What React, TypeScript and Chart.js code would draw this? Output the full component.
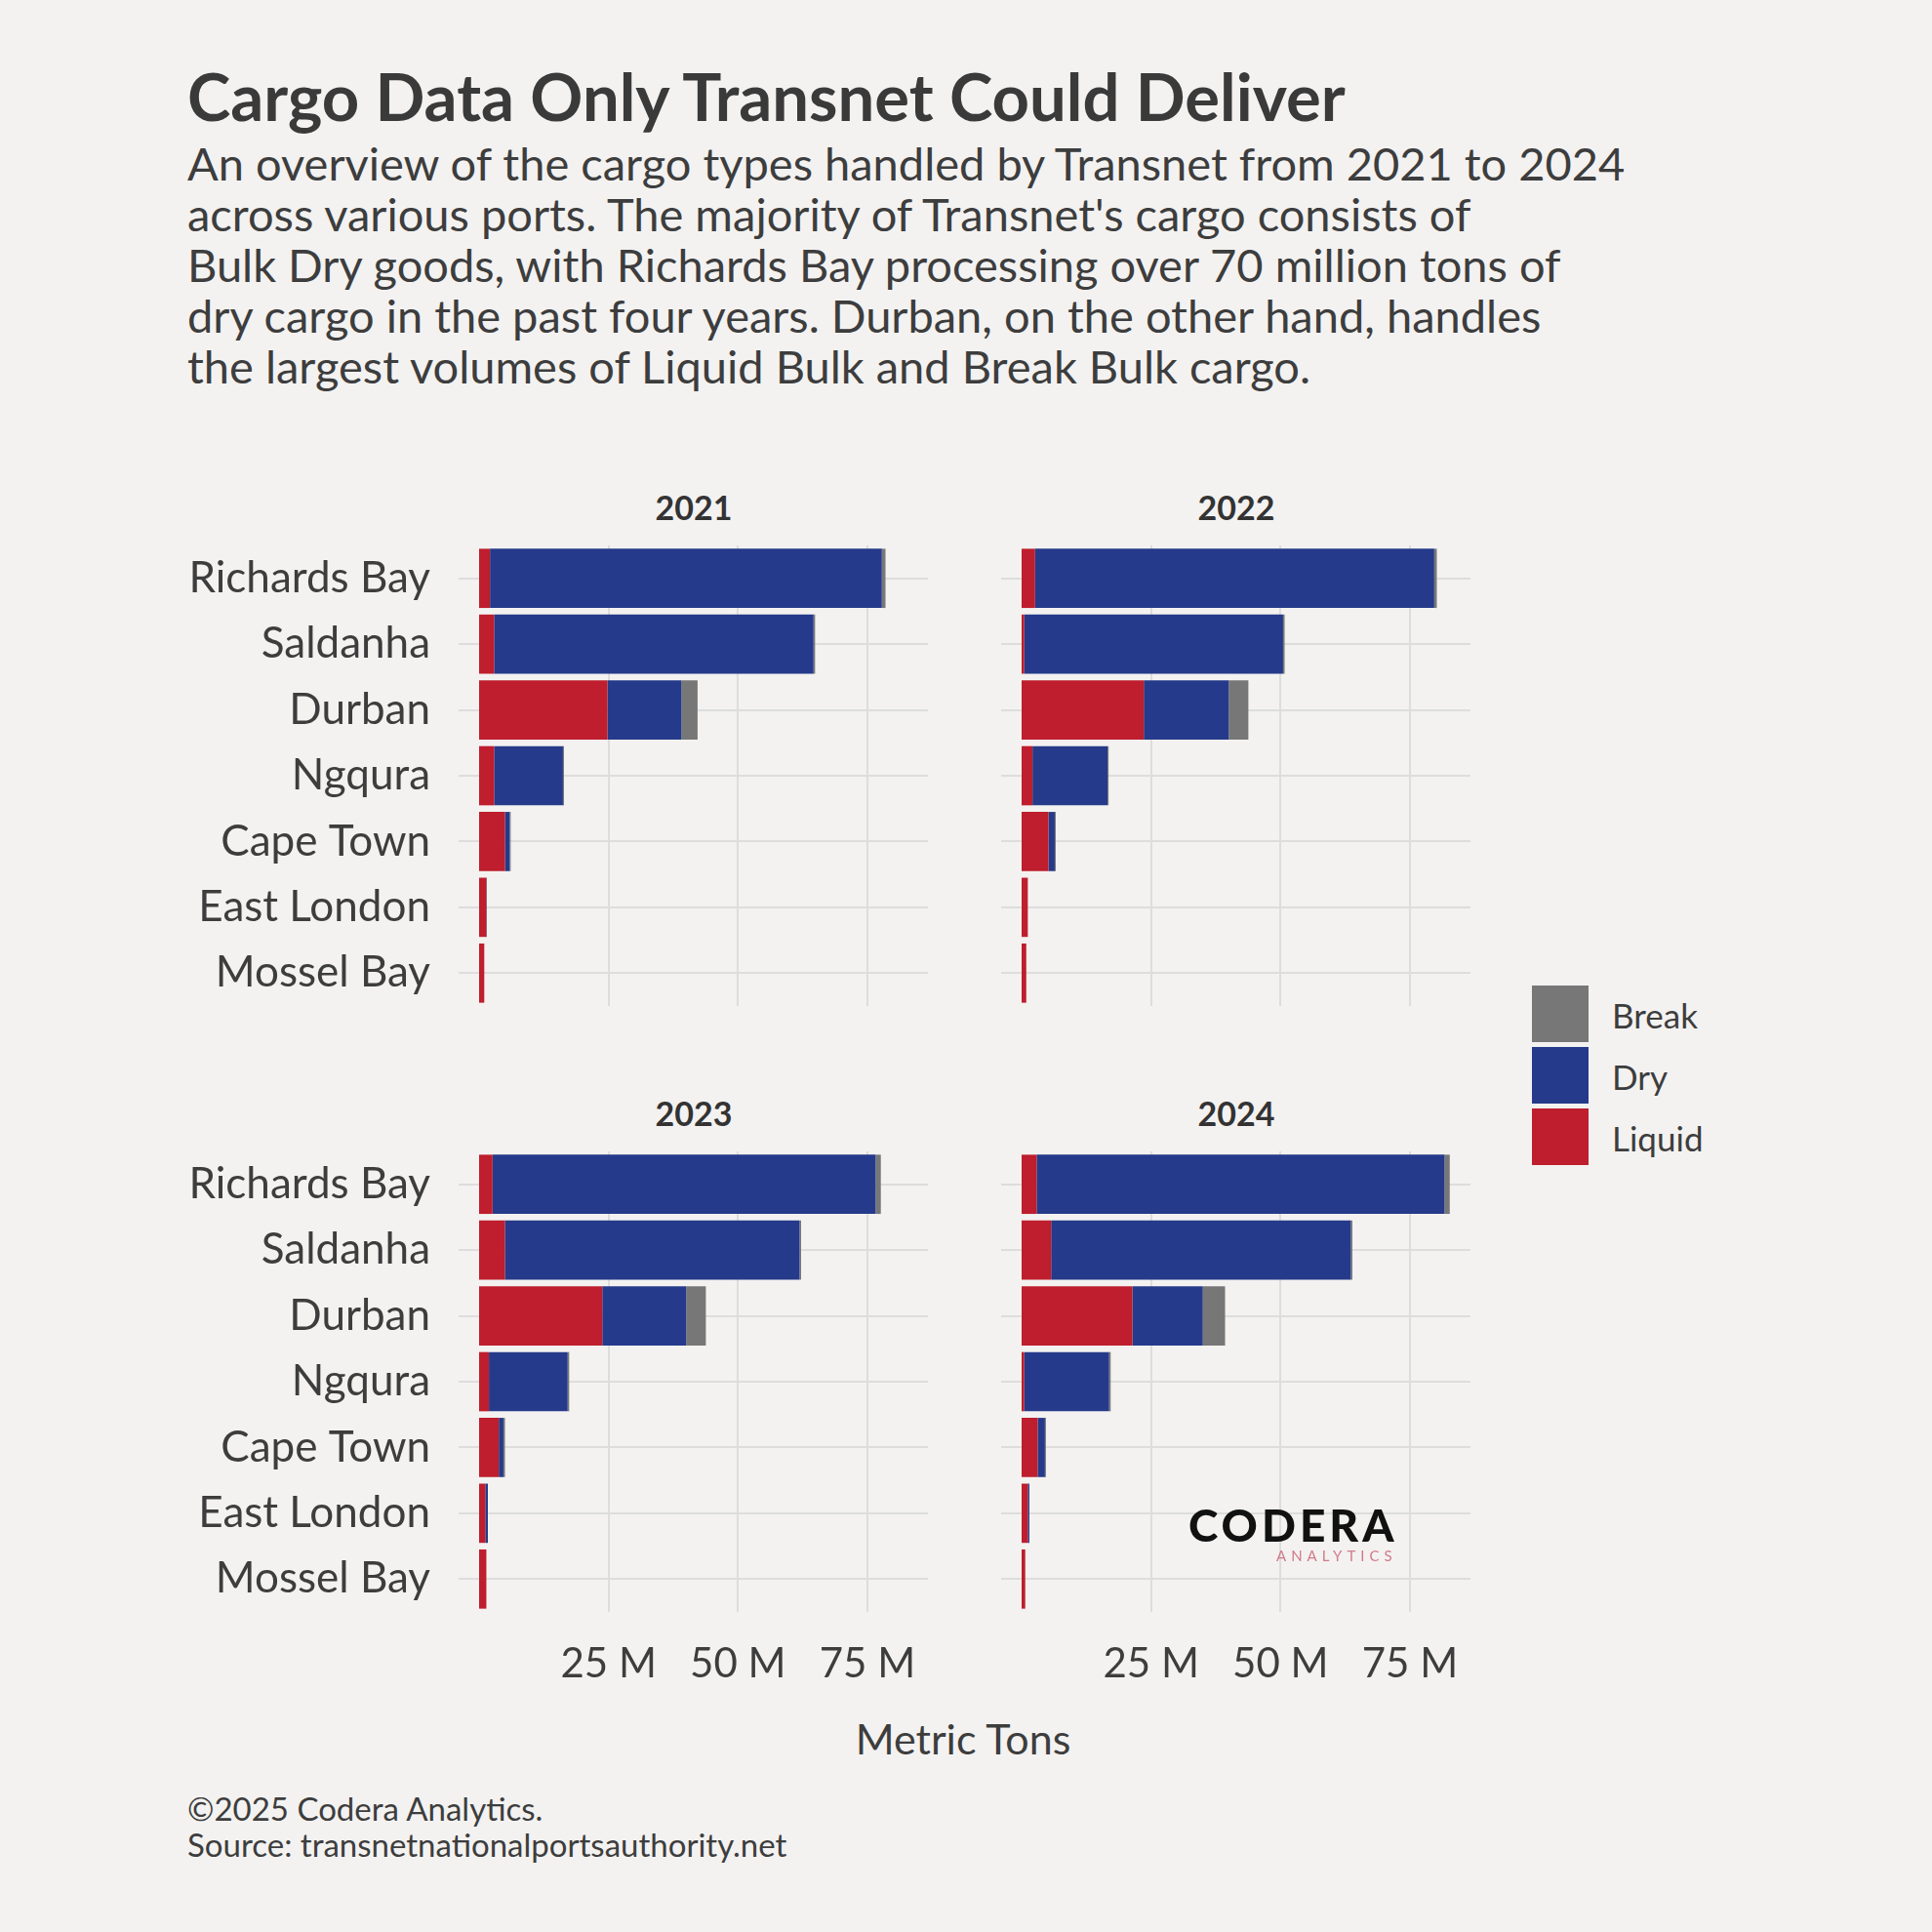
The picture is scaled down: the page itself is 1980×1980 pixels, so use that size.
import React, { useEffect, useRef } from "react";
import { Chart, registerables } from "chart.js";
Chart.register(...registerables);

const ports = ["Richards Bay", "Saldanha", "Durban", "Ngqura", "Cape Town", "East London", "Mossel Bay"];
const years = ["2021", "2022", "2023", "2024"];
const liquid2021 = [2.1, 2.9, 24.8, 2.9, 5.0, 1.4, 1.0];
const dry2021 = [75.7, 61.7, 14.3, 13.3, 0.9, 0.1, 0];
const break2021 = [0.7, 0.3, 3.1, 0.2, 0.2, 0, 0];
const liquid2022 = [2.6, 0.5, 23.6, 2.1, 5.2, 1.2, 0.9];
const dry2022 = [77.1, 50.0, 16.4, 14.5, 1.2, 0, 0];
const break2022 = [0.5, 0.3, 3.8, 0.2, 0.2, 0, 0];
const liquid2023 = [2.6, 5.0, 23.8, 1.9, 3.8, 1.2, 1.4];
const dry2023 = [74.0, 56.9, 16.2, 15.2, 0.9, 0.5, 0];
const break2023 = [1.0, 0.3, 3.8, 0.3, 0.3, 0, 0];
const liquid2024 = [2.9, 5.7, 21.4, 0.5, 3.1, 1.2, 0.7];
const dry2024 = [78.8, 57.9, 13.6, 16.4, 1.4, 0.3, 0];
const break2024 = [1.0, 0.3, 4.3, 0.3, 0.2, 0, 0];
const liquidAll = [liquid2021, liquid2022, liquid2023, liquid2024];
const dryAll = [dry2021, dry2022, dry2023, dry2024];
const breakAll = [break2021, break2022, break2023, break2024];
const xTicks = [25, 50, 75];

const RED = "#be1e2d", BLUE = "#253a8a", GREY = "#777777", TXT = "#3d3d3d", BG = "#f3f2f1", GRID = "#dddddd";
const FONT = "Lato, 'Noto Sans', sans-serif";

function Panel({ idx }: { idx: number }) {
  const ref = useRef<HTMLCanvasElement>(null);
  const left = idx % 2 === 0;
  const bottom = idx >= 2;
  const canvasLeft = left ? 150 : 1026;
  const plotLeft = left ? 491 : 1047;
  const plotW = 460;
  const top = bottom ? 1180 : 559;
  const plotH = 472;
  const w = plotLeft - canvasLeft + plotW;
  const xh = bottom ? 86 : 0;
  const h = plotH + xh;
  useEffect(() => {
    const c = new Chart(ref.current!, {
      type: "bar",
      data: {
        labels: ports,
        datasets: [
          { label: "Liquid", data: liquidAll[idx], backgroundColor: RED },
          { label: "Dry", data: dryAll[idx], backgroundColor: BLUE },
          { label: "Break", data: breakAll[idx], backgroundColor: GREY },
        ],
      },
      options: {
        indexAxis: "y",
        animation: false,
        responsive: false,
        maintainAspectRatio: false,
        layout: { padding: 0 },
        datasets: { bar: { categoryPercentage: 1, barPercentage: 0.9 } },
        plugins: { legend: { display: false }, tooltip: { enabled: false } },
        scales: {
          x: {
            stacked: true, min: 0, max: 86.7,
            afterBuildTicks: (s: any) => { s.ticks = xTicks.map((v) => ({ value: v })); },
            afterFit: (s: any) => { s.height = xh; s.paddingLeft = 0; s.paddingRight = 0; },
            border: { display: false },
            grid: { color: GRID, lineWidth: 2, drawTicks: false },
            ticks: { display: bottom, color: TXT, font: { family: FONT, size: 42 }, padding: 28, maxRotation: 0, callback: (v: any) => v + " M" },
          },
          y: {
            stacked: true,
            afterFit: (s: any) => { s.width = plotLeft - canvasLeft; s.paddingTop = 0; s.paddingBottom = 0; },
            border: { display: false },
            grid: { color: GRID, lineWidth: 2, offset: false, drawTicks: true, tickLength: 21, tickColor: GRID },
            ticks: { display: left, color: TXT, font: { family: FONT, size: 44 }, padding: 29, autoSkip: false },
          },
        },
      },
    });
    return () => c.destroy();
  }, []);
  return (
    <>
      <div style={{ position: "absolute", left: plotLeft - 10, width: plotW, top: top - 60, textAlign: "center", fontWeight: 700, fontSize: 34, color: "#333" }}>{years[idx]}</div>
      <canvas ref={ref} width={w} height={h} style={{ position: "absolute", left: canvasLeft, top, width: w, height: h }} />
    </>
  );
}

export default function App() {
  const legend = [["Break", GREY], ["Dry", BLUE], ["Liquid", RED]];
  return (
    <div style={{ position: "absolute", left: 0, top: 0, width: 1980, height: 1980, background: BG, fontFamily: FONT, color: TXT, overflow: "hidden" }}>
      <div style={{ position: "absolute", left: 192, top: 58, fontSize: 67, fontWeight: 700, color: "#3a3a3a", whiteSpace: "nowrap" }}>Cargo Data Only Transnet Could Deliver</div>
      <div style={{ position: "absolute", left: 192, top: 141, fontSize: 47, lineHeight: "52px", width: 1750, whiteSpace: "nowrap" }}>
        An overview of the cargo types handled by Transnet from 2021 to 2024<br />
        across various ports. The majority of Transnet's cargo consists of<br />
        Bulk Dry goods, with Richards Bay processing over 70 million tons of<br />
        dry cargo in the past four years. Durban, on the other hand, handles<br />
        the largest volumes of Liquid Bulk and Break Bulk cargo.
      </div>
      {[0, 1, 2, 3].map((i) => <Panel key={i} idx={i} />)}
      {legend.map(([l, c], i) => (
        <React.Fragment key={l}>
          <div style={{ position: "absolute", left: 1570, top: 1010 + i * 63, width: 58, height: 58, background: c }} />
          <div style={{ position: "absolute", left: 1652, top: 1019 + i * 63, fontSize: 35 }}>{l}</div>
        </React.Fragment>
      ))}
      <div style={{ position: "absolute", left: 1218, top: 1535, fontSize: 46, fontWeight: 900, letterSpacing: 4, color: "#111" }}>CODERA</div>
      <div style={{ position: "absolute", left: 1308, top: 1585, fontSize: 15, letterSpacing: 5, color: "#d27a8a" }}>ANALYTICS</div>
      <span style={{ position: "absolute", left: 987, top: 1756, transform: "translateX(-50%)", whiteSpace: "nowrap", fontSize: 43 }}>Metric Tons</span>
      <div style={{ position: "absolute", left: 192, top: 1835, fontSize: 33, lineHeight: "37px", whiteSpace: "nowrap" }}>©2025 Codera Analytics.<br />Source: transnetnationalportsauthority.net</div>
    </div>
  );
}
